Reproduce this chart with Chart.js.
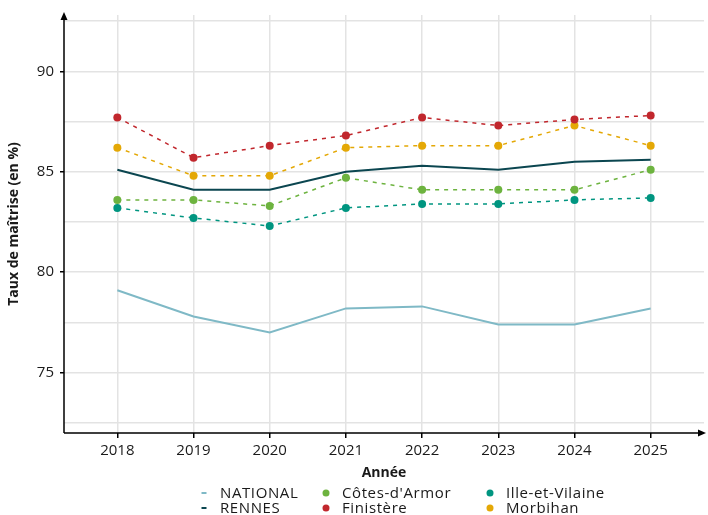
<!DOCTYPE html>
<html>
<head>
<meta charset="utf-8">
<script src="https://cdn.jsdelivr.net/npm/chart.js@4.4.1/dist/chart.umd.min.js"></script>
<style>
  html, body { margin: 0; padding: 0; background: #fff; }
  #wrap { width: 708px; height: 515px; position: relative; }
</style>
</head>
<body>
<div id="wrap"><canvas id="canvas"></canvas></div>
<script>
const years = [2018, 2019, 2020, 2021, 2022, 2023, 2024, 2025];
const yTicks = [72.5, 75, 77.5, 80, 82.5, 85, 87.5, 90, 92.5];

const national = [79.1, 77.8, 77.0, 78.2, 78.3, 77.4, 77.4, 78.2];
const rennes = [85.1, 84.1, 84.1, 85.0, 85.3, 85.1, 85.5, 85.6];
const cotesArmor = [83.6, 83.6, 83.3, 84.7, 84.1, 84.1, 84.1, 85.1];
const finistere = [87.7, 85.7, 86.3, 86.8, 87.7, 87.3, 87.6, 87.8];
const illeVilaine = [83.2, 82.7, 82.3, 83.2, 83.4, 83.4, 83.6, 83.7];
const morbihan = [86.2, 84.8, 84.8, 86.2, 86.3, 86.3, 87.3, 86.3];

const FONT = "'Open Sans', 'Noto Sans', sans-serif";

function pts(values) {
    return values.map((v, i) => ({ x: years[i], y: v }));
}

function solidSet(label, values, color, width) {
    return {
        label: label, data: pts(values), borderColor: color, backgroundColor: color,
        borderWidth: width, pointRadius: 0, tension: 0, legendType: 'line'
    };
}

function dashedSet(label, values, color) {
    return {
        label: label, data: pts(values), borderColor: color, backgroundColor: color,
        borderWidth: 1.5, borderDash: [4, 5], pointRadius: 4, pointHoverRadius: 4,
        pointBorderWidth: 0, tension: 0, legendType: 'dot'
    };
}

const datasets = [
    solidSet('NATIONAL', national, '#7fb9c6', 2),
    solidSet('RENNES', rennes, '#0b4650', 2),
    dashedSet("Côtes-d'Armor", cotesArmor, '#6db33f'),
    dashedSet('Finistère', finistere, '#c1272d'),
    dashedSet('Ille-et-Vilaine', illeVilaine, '#009580'),
    dashedSet('Morbihan', morbihan, '#e4a806')
];

// axes with arrows + legend laid out in columns
const decor = {
    id: 'decor',
    afterDraw(chart) {
        const ctx = chart.ctx;
        const a = chart.chartArea;
        ctx.save();
        ctx.strokeStyle = '#000';
        ctx.fillStyle = '#000';
        ctx.lineWidth = 1.5;
        ctx.beginPath();
        ctx.moveTo(a.left, a.bottom);
        ctx.lineTo(a.left, a.top + 2);
        ctx.moveTo(a.left, a.bottom);
        ctx.lineTo(a.right - 2, a.bottom);
        ctx.stroke();
        ctx.beginPath();
        ctx.moveTo(a.left, a.top - 3);
        ctx.lineTo(a.left - 3.5, a.top + 5);
        ctx.lineTo(a.left + 3.5, a.top + 5);
        ctx.closePath();
        ctx.fill();
        ctx.beginPath();
        ctx.moveTo(a.right + 2, a.bottom);
        ctx.lineTo(a.right - 6, a.bottom - 3.5);
        ctx.lineTo(a.right - 6, a.bottom + 3.5);
        ctx.closePath();
        ctx.fill();

        // legend
        const colX = [204, 326, 490];
        const rowY = [493, 508];
        ctx.font = '15px ' + FONT;
        ctx.letterSpacing = '0.6px';
        ctx.textBaseline = 'middle';
        chart.data.datasets.forEach((ds, i) => {
            const cx = colX[Math.floor(i / 2)];
            const cy = rowY[i % 2];
            ctx.fillStyle = ds.borderColor;
            ctx.strokeStyle = ds.borderColor;
            if (ds.legendType === 'dot') {
                ctx.beginPath();
                ctx.arc(cx, cy, 3.5, 0, Math.PI * 2);
                ctx.fill();
            } else {
                ctx.lineWidth = 2;
                ctx.beginPath();
                ctx.moveTo(cx - 2.5, cy);
                ctx.lineTo(cx + 2.5, cy);
                ctx.stroke();
            }
            ctx.fillStyle = '#1a1a1a';
            ctx.fillText(ds.label, cx + 16, cy + 1);
        });
        ctx.restore();
    }
};

new Chart(document.getElementById('canvas'), {
    type: 'line',
    data: { datasets: datasets },
    options: {
        responsive: true,
        maintainAspectRatio: false,
        animation: false,
        layout: { padding: { top: 12, right: 2, left: 6, bottom: 34 } },
        plugins: {
            legend: { display: false },
            tooltip: { enabled: false }
        },
        scales: {
            x: {
                type: 'linear',
                min: 2017.3,
                max: 2025.7,
                afterBuildTicks: s => { s.ticks = years.map(v => ({ value: v })); },
                afterFit: s => { s.height = 48; },
                grid: { color: '#e3e3e3', lineWidth: 1.5, tickLength: 5, tickColor: '#000' },
                border: { display: false },
                ticks: {
                    color: '#1a1a1a', font: { family: FONT, size: 15 }, padding: 4,
                    maxRotation: 0, autoSkip: false,
                    callback: v => String(v)
                },
                title: {
                    display: true, text: 'Année', color: '#1a1a1a',
                    font: { family: FONT, size: 14, weight: 'bold' }, padding: { top: 0, bottom: 0 }
                }
            },
            y: {
                min: 72,
                max: 92.8,
                afterBuildTicks: s => { s.ticks = yTicks.map(v => ({ value: v })); },
                afterFit: s => { s.width = 58; },
                grid: {
                    color: '#e3e3e3', lineWidth: 1.5, tickLength: 4,
                    tickColor: c => (c.tick && c.tick.value % 5 === 0) ? '#000' : 'rgba(0,0,0,0)'
                },
                border: { display: false },
                ticks: {
                    color: '#1a1a1a', font: { family: FONT, size: 15 }, padding: 6, autoSkip: false,
                    callback: v => (v % 5 === 0 ? String(v) : '')
                },
                title: {
                    display: true, text: 'Taux de maîtrise (en %)', color: '#1a1a1a',
                    font: { family: FONT, size: 14, weight: 'bold' }, padding: { top: 0, bottom: 4 }
                }
            }
        }
    },
    plugins: [decor]
});
</script>
</body>
</html>
